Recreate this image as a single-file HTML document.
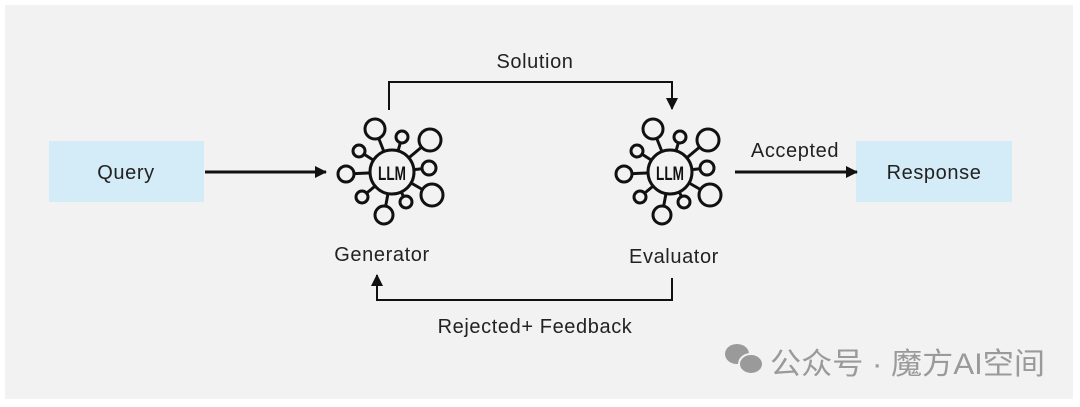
<!DOCTYPE html>
<html><head><meta charset="utf-8"><style>
html,body{margin:0;padding:0;background:#fff;width:1080px;height:407px;overflow:hidden}
svg{display:block}
text{font-family:"Liberation Sans","Noto Sans CJK SC",sans-serif}
.l{font-size:20px;letter-spacing:0.6px;fill:#222}
</style></head><body>
<svg width="1080" height="407" viewBox="0 0 1080 407">
<defs>
<marker id="a" markerWidth="12" markerHeight="12" refX="11" refY="6" orient="auto" markerUnits="userSpaceOnUse">
<path d="M0,0 L12,6 L0,12 Z" fill="#111"/></marker>
<g id="llm" fill="none" stroke="#111" stroke-width="3">
<line x1="0" y1="0" x2="-17" y2="-43"/><line x1="0" y1="0" x2="10" y2="-35"/>
<line x1="0" y1="0" x2="38" y2="-32"/><line x1="0" y1="0" x2="-33" y2="-21"/>
<line x1="0" y1="0" x2="-46" y2="2"/><line x1="0" y1="0" x2="37" y2="-4"/>
<line x1="0" y1="0" x2="40" y2="23"/><line x1="0" y1="0" x2="-30" y2="25"/>
<line x1="0" y1="0" x2="-8" y2="43"/><line x1="0" y1="0" x2="14" y2="30"/>
<circle r="22" fill="#f2f2f2"/>
<circle cx="-17" cy="-43" r="10" fill="#f2f2f2"/><circle cx="10" cy="-35" r="6" fill="#f2f2f2"/>
<circle cx="38" cy="-32" r="11" fill="#f2f2f2"/><circle cx="-33" cy="-21" r="6" fill="#f2f2f2"/>
<circle cx="-46" cy="2" r="8" fill="#f2f2f2"/><circle cx="37" cy="-4" r="7" fill="#f2f2f2"/>
<circle cx="40" cy="23" r="11" fill="#f2f2f2"/><circle cx="-30" cy="25" r="6" fill="#f2f2f2"/>
<circle cx="-8" cy="43" r="9" fill="#f2f2f2"/><circle cx="14" cy="30" r="6" fill="#f2f2f2"/>
</g>
</defs>
<rect x="5" y="5" width="1068" height="394" fill="#f2f2f2"/>
<rect x="49" y="141" width="155" height="61" fill="#d4ecf7"/>
<rect x="856" y="141" width="156" height="61" fill="#d4ecf7"/>
<text x="126" y="179" class="l" text-anchor="middle">Query</text>
<text x="934" y="179" class="l" text-anchor="middle">Response</text>
<use href="#llm" x="392" y="172"/>
<use href="#llm" x="670" y="172"/>
<text x="392" y="180" font-size="17" font-weight="bold" text-anchor="middle" fill="#111" transform="translate(392 180) scale(0.8 1.15) translate(-392 -180)">LLM</text>
<text x="670" y="180" font-size="17" font-weight="bold" text-anchor="middle" fill="#111" transform="translate(670 180) scale(0.8 1.15) translate(-670 -180)">LLM</text>
<line x1="205" y1="172" x2="326" y2="172" stroke="#111" stroke-width="3" marker-end="url(#a)"/>
<line x1="735" y1="172" x2="857" y2="172" stroke="#111" stroke-width="3" marker-end="url(#a)"/>
<polyline points="389,110 389,82 672,82 672,109" fill="none" stroke="#111" stroke-width="2" marker-end="url(#a)"/>
<polyline points="672,278 672,300 377,300 377,275" fill="none" stroke="#111" stroke-width="2" marker-end="url(#a)"/>
<text x="535" y="68" class="l" text-anchor="middle">Solution</text>
<text x="795" y="157" class="l" text-anchor="middle">Accepted</text>
<text x="382" y="261" class="l" text-anchor="middle">Generator</text>
<text x="674" y="263" class="l" text-anchor="middle">Evaluator</text>
<text x="535" y="333" class="l" text-anchor="middle">Rejected+ Feedback</text>
<g fill="#9a9a9a">
<ellipse cx="737" cy="354" rx="12" ry="10"/>
<ellipse cx="751" cy="364" rx="12" ry="10" stroke="#f2f2f2" stroke-width="2"/>
</g>
<text x="770" y="374" font-size="30" fill="#9a9a9a" textLength="275" lengthAdjust="spacingAndGlyphs">公众号 · 魔方AI空间</text>
</svg>
</body></html>
